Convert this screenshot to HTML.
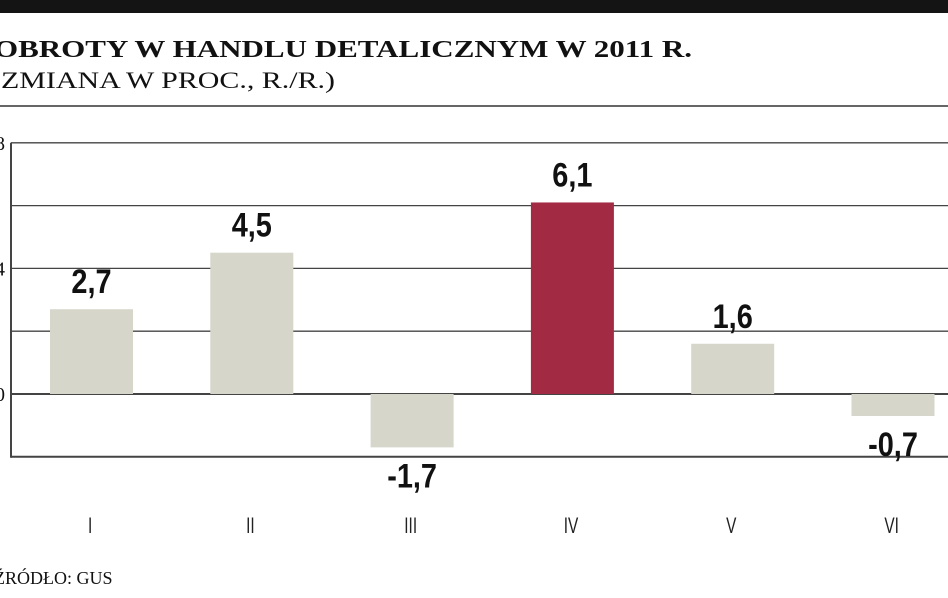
<!DOCTYPE html>
<html><head><meta charset="utf-8"><style>
body{margin:0;background:#fff;width:948px;height:593px;overflow:hidden;font-family:"Liberation Serif",serif}
</style></head><body>
<svg width="948" height="593" xmlns="http://www.w3.org/2000/svg">
<rect x="0" y="0" width="948" height="13" fill="#141414"/>
<text x="-6" y="57" font-family="Liberation Serif" font-weight="bold" font-size="24" fill="#111" textLength="698" lengthAdjust="spacingAndGlyphs">OBROTY W HANDLU DETALICZNYM W 2011 R.</text>
<text x="-9" y="88" font-family="Liberation Serif" font-size="23" fill="#111" textLength="344" lengthAdjust="spacingAndGlyphs">(ZMIANA W PROC., R./R.)</text>
<line x1="0" y1="106" x2="948" y2="106" stroke="#333" stroke-width="1.5"/>
<g id="grid"></g><g id="bars"></g>
<text x="-6" y="584" font-family="Liberation Serif" font-size="18" fill="#111">ŹRÓDŁO: GUS</text>
</svg>
<script>
const categories=["I","II","III","IV","V","VI"];
const values=[2.7,4.5,-1.7,6.1,1.6,-0.7];
const highlight=[false,false,false,true,false,false];
const gridValues=[8,6,4,2,0,-2];
const tickLabels=["8","","4","","0",""];
const ns="http://www.w3.org/2000/svg";
const y=v=>394-v*31.4;
const x=i=>50+i*160.3;
const bw=83;
function mk(t,a,p){const e=document.createElementNS(ns,t);for(const k in a)e.setAttribute(k,a[k]);p.appendChild(e);return e;}
const g=document.getElementById('grid'),b=document.getElementById('bars');
gridValues.forEach((v,i)=>{
 const l=mk('line',{x1:11,x2:948,y1:y(v),y2:y(v),stroke:'#444','stroke-width':v===0||v===-2?2:1.3},g);
 
 
 if(tickLabels[i]){const t=mk('text',{x:-5,y:y(v)+7,'font-family':'Liberation Serif','font-size':20,fill:'#111'},g);t.textContent=tickLabels[i];
 
 }
});
const ax=mk('line',{x1:11,x2:11,y1:y(8),y2:y(-2)+1,stroke:'#444','stroke-width':2},g);


values.forEach((v,i)=>{
 const top=Math.min(y(v),y(0)),h=Math.abs(y(v)-y(0));
 const r=mk('rect',{x:x(i),y:top,width:bw,height:h,fill:highlight[i]?'#a32a43':'#d6d6cb'},b);
 
 
 const ly=v>=0?y(v)-16:y(v)+40;
 const t=mk('text',{x:x(i)+bw/2,y:ly,'text-anchor':'middle','font-family':'Liberation Sans','font-weight':'bold','font-size':34,fill:'#111',transform:`translate(${x(i)+bw/2} 0) scale(0.85 1) translate(${-(x(i)+bw/2)} 0)`},b);
 t.textContent=v.toString().replace('.',',');
 
 
 const c=mk('text',{x:x(i)+bw/2-2,y:533,'text-anchor':'middle','font-family':'Liberation Sans','font-size':22,fill:'#222',transform:`translate(${x(i)+bw/2} 0) scale(0.7 1) translate(${-(x(i)+bw/2)} 0)`},b);
 c.textContent=categories[i];
 
 
});
</script>
</body></html>
